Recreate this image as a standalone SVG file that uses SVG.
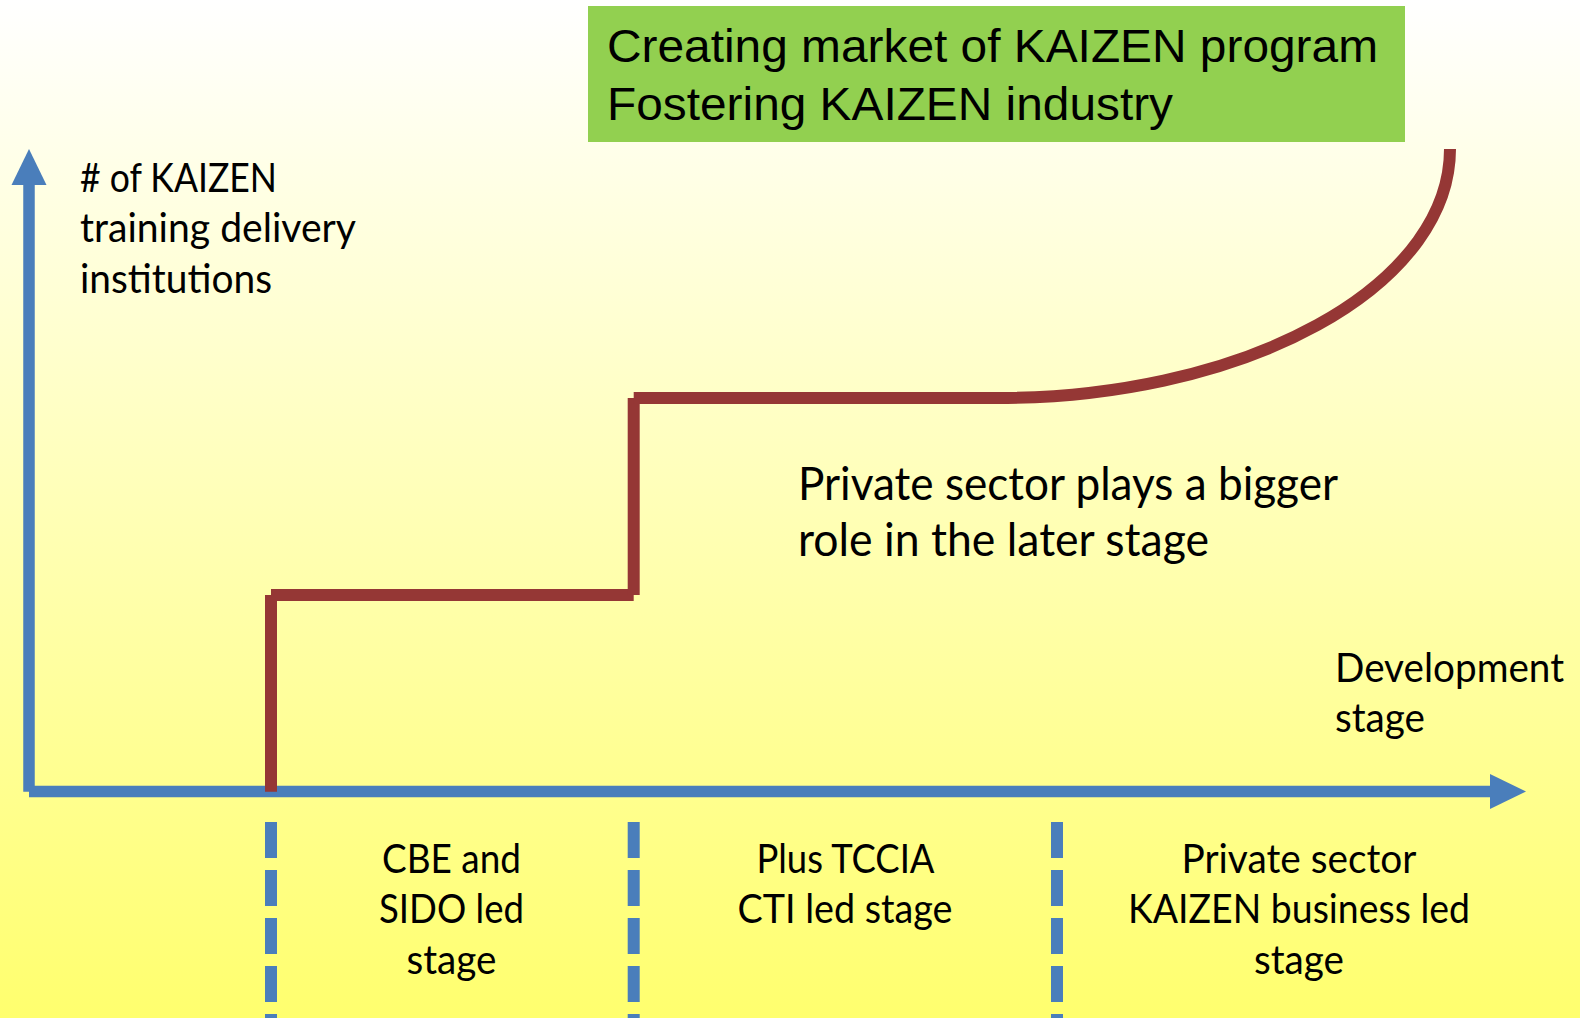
<svg xmlns="http://www.w3.org/2000/svg" width="1580" height="1018" viewBox="0 0 1580 1018">
  <defs>
    <linearGradient id="bg" x1="0" y1="0" x2="0" y2="1">
      <stop offset="0" stop-color="#FFFFFF"/>
      <stop offset="1" stop-color="#FFFF6E"/>
    </linearGradient>
    <style>
      .lbl { font-family: "Lato", "Liberation Sans", sans-serif; font-size: 41px; fill: #000; }
      .big { font-family: "Lato", "Liberation Sans", sans-serif; font-size: 47px; fill: #000; }
      .mid { text-anchor: middle; }
      .box { font-family: "Liberation Sans", Arial, sans-serif; font-size: 46px; fill: #000; }
      .axis { stroke: #4A7EBB; stroke-width: 11.5; fill: none; }
      .dash { stroke: #4A7EBB; stroke-width: 12; stroke-dasharray: 36 12; fill: none; }
      .step { stroke: #953735; stroke-width: 12; fill: none; }
      .head { fill: #4A7EBB; }
    </style>
  </defs>
  <rect x="0" y="0" width="1580" height="1018" fill="url(#bg)"/>

  <g id="title">
    <rect x="588" y="6" width="817" height="136" fill="#92D050"/>
    <text class="box" x="607" y="62" textLength="771" lengthAdjust="spacingAndGlyphs">Creating market of KAIZEN program</text>
    <text class="box" x="607" y="119.5" textLength="566" lengthAdjust="spacingAndGlyphs">Fostering KAIZEN industry</text>
  </g>

  <g id="y-axis-label">
    <text class="lbl" x="80" y="192" textLength="197" lengthAdjust="spacingAndGlyphs"># of KAIZEN</text>
    <text class="lbl" x="80" y="242" textLength="276" lengthAdjust="spacingAndGlyphs">training delivery</text>
    <text class="lbl" x="80" y="292.5" textLength="192" lengthAdjust="spacingAndGlyphs">institutions</text>
  </g>

  <g id="x-axis-label">
    <text class="lbl" x="1335" y="682" textLength="229" lengthAdjust="spacingAndGlyphs">Development</text>
    <text class="lbl" x="1335" y="732" textLength="90" lengthAdjust="spacingAndGlyphs">stage</text>
  </g>

  <g id="note">
    <text class="big" x="798" y="499.5" textLength="540" lengthAdjust="spacingAndGlyphs">Private sector plays a bigger</text>
    <text class="big" x="798" y="556" textLength="411" lengthAdjust="spacingAndGlyphs">role in the later stage</text>
  </g>

  <g id="stage1">
    <text class="lbl mid" x="451.5" y="873" textLength="139" lengthAdjust="spacingAndGlyphs">CBE and</text>
    <text class="lbl mid" x="451.5" y="923" textLength="145" lengthAdjust="spacingAndGlyphs">SIDO led</text>
    <text class="lbl mid" x="451.5" y="974" textLength="90" lengthAdjust="spacingAndGlyphs">stage</text>
  </g>

  <g id="stage2">
    <text class="lbl mid" x="845.5" y="873" textLength="178" lengthAdjust="spacingAndGlyphs">Plus TCCIA</text>
    <text class="lbl mid" x="845" y="923" textLength="215" lengthAdjust="spacingAndGlyphs">CTI led stage</text>
  </g>

  <g id="stage3">
    <text class="lbl mid" x="1299" y="873" textLength="235" lengthAdjust="spacingAndGlyphs">Private sector</text>
    <text class="lbl mid" x="1299" y="923" textLength="342" lengthAdjust="spacingAndGlyphs">KAIZEN business led</text>
    <text class="lbl mid" x="1299" y="974" textLength="90" lengthAdjust="spacingAndGlyphs">stage</text>
  </g>

  <g id="connectors">
    <line class="axis" x1="29" y1="184" x2="29" y2="791.7"/>
    <polygon class="head" points="29,149 11.5,185 46.5,185"/>
    <line class="axis" x1="29" y1="791.5" x2="1491" y2="791.5"/>
    <polygon class="head" points="1526,791.5 1490,774 1490,809"/>

    <line class="dash" x1="271" y1="822" x2="271" y2="1018"/>
    <line class="dash" x1="633.7" y1="822" x2="633.7" y2="1018"/>
    <line class="dash" x1="1057" y1="822" x2="1057" y2="1018"/>

    <line class="step" x1="271" y1="595" x2="271" y2="791.7"/>
    <line class="step" x1="271" y1="595" x2="633.7" y2="595"/>
    <line class="step" x1="633.7" y1="398" x2="633.7" y2="595"/>
    <line class="step" x1="633.7" y1="398" x2="997" y2="398"/>
    <path class="step" stroke-width="11.5" d="M997,398 A453,249 0 0 0 1450,149"/>
  </g>
</svg>
